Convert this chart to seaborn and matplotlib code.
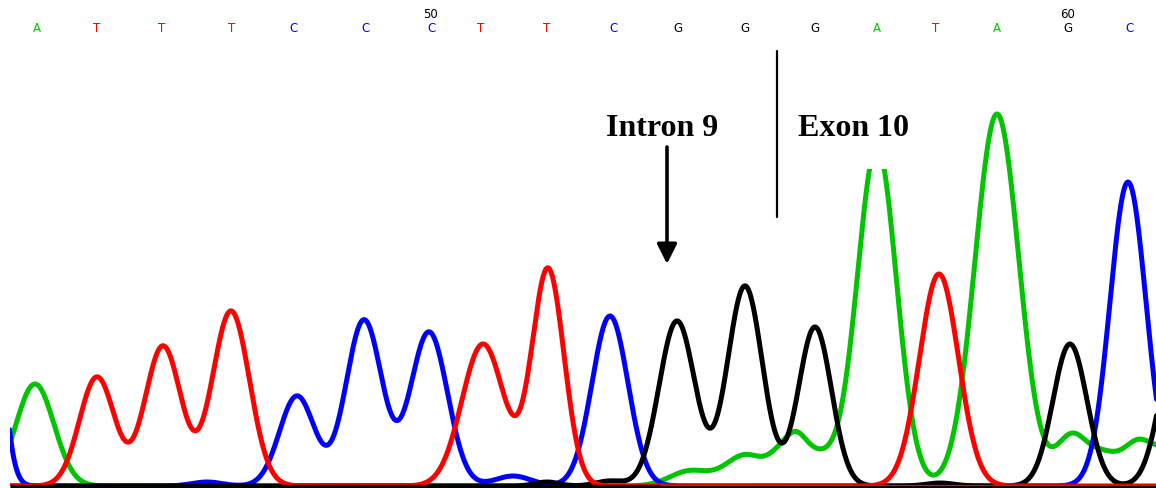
import numpy as np
import pandas as pd
import matplotlib
matplotlib.use("Agg")
import matplotlib.pyplot as plt
import seaborn as sns
from matplotlib.patches import Rectangle

# Base calls and the scan position of each call
bases = list("ATTTCCCTTCGGGATAGC")
base_scan = [37, 97, 162, 232, 293, 365, 431, 481, 547, 613, 678, 745, 815, 877, 936, 997, 1068, 1129]
first_base_number = 44
number_every = 10

# Peak tables for each dye channel: scan position, signal height, peak width (sd)
a_center = [35, 690, 745, 778, 795, 810, 877, 997, 1072, 1104, 1138, 1178]
a_height = [102, 15, 30, 12, 22, 34, 339, 372, 50, 25, 42, 40]
a_width = [19, 20, 20, 10, 10, 25, 19.5, 22, 16, 14, 16, 18]

c_center = [-14, 207, 297, 364, 429, 513, 610, 1128]
c_height = [330, 4, 90, 166, 154, 10, 170, 304]
c_width = [12.5, 15, 17.5, 18, 18.5, 18, 18, 18]

g_center = [547, 610, 677, 745, 815, 940, 1070, 1180]
g_height = [4, 5, 165, 200, 159, 3, 142, 165]
g_width = [12, 14, 18, 17.5, 16.5, 14, 17, 18]

t_center = [97, 163, 231, 483, 548, 939]
t_height = [109, 140, 175, 142, 217, 212]
t_width = [17.5, 18, 18.5, 21, 16, 19.5]

# Intron/exon boundary and label placement
boundary_scan = 777
intron_label = "Intron 9"
exon_label = "Exon 10"

dye_colors = {"A": "#00c400", "C": "#0000ff", "G": "#000000", "T": "#ff0000"}
peaks = {
    "A": (a_center, a_height, a_width),
    "C": (c_center, c_height, c_width),
    "G": (g_center, g_height, g_width),
    "T": (t_center, t_height, t_width),
}

scan = np.arange(-40.0, 1220.0, 0.5)
frames = []
for dye, (cen, hgt, wid) in peaks.items():
    signal = np.zeros_like(scan)
    for c, h, w in zip(cen, hgt, wid):
        signal += h * np.exp(-((scan - c) ** 2) / (2.0 * w ** 2))
    frames.append(pd.DataFrame({"scan": scan, "signal": signal, "dye": dye}))
traces = pd.concat(frames, ignore_index=True)

sns.set_style("white")
plt.rcParams["font.family"] = ["DejaVu Sans"]

W, H = 1156, 489
fig = plt.figure(figsize=(W / 100, H / 100), dpi=100)
fig.patch.set_facecolor("white")
ax = fig.add_axes([10 / W, 2 / H, (W - 10) / W, 487 / H])
ax.set_xlim(10, 1156)
ax.set_ylim(0, 487)
ax.axis("off")

sns.lineplot(data=traces, x="scan", y="signal", hue="dye",
             hue_order=["A", "C", "G", "T"], palette=dye_colors,
             estimator=None, sort=False, legend=False, linewidth=3.6, ax=ax)
for line in ax.get_lines():
    line.set_solid_joinstyle("round")

# Baseline, with the flat T trace showing as a thin red edge on the right
ax.hlines(0, 10, 1156, color="black", lw=2.4, clip_on=False, zorder=4)
ax.hlines(1.2, 660, 1156, color="#ff0000", lw=0.9, clip_on=False, zorder=4)

# Base calls and position numbers along the top
for i, (b, x) in enumerate(zip(bases, base_scan)):
    ax.text(x, 458, b, color=dye_colors[b], ha="center", va="center",
            fontsize=8.5, zorder=6)
    num = first_base_number + i
    if num % number_every == 0:
        ax.text(x, 472, str(num), color="black", ha="center", va="center",
                fontsize=8.5, zorder=6)

# Label panels
ax.add_patch(Rectangle((585, 340), 170, 49, facecolor="white", edgecolor="none", zorder=5))
ax.add_patch(Rectangle((780, 317), 167, 72, facecolor="white", edgecolor="none", zorder=5))
label_font = dict(family=["Liberation Serif", "DejaVu Serif"], fontweight="bold",
                  fontsize=23, color="black", ha="center", va="center", zorder=6)
ax.text(662, 359, intron_label, **label_font)
ax.text(853, 359, exon_label, **label_font)

# Boundary marker and arrow
ax.plot([boundary_scan, boundary_scan], [269, 435], color="black", lw=1.6, zorder=6)
ax.annotate("", xy=(667, 222), xytext=(667, 339),
            arrowprops=dict(arrowstyle="-|>,head_length=0.6,head_width=0.3",
                            lw=2.6, color="black", shrinkA=0, shrinkB=0,
                            mutation_scale=20), zorder=6)

fig.savefig("out.png", dpi=100, facecolor="white")
